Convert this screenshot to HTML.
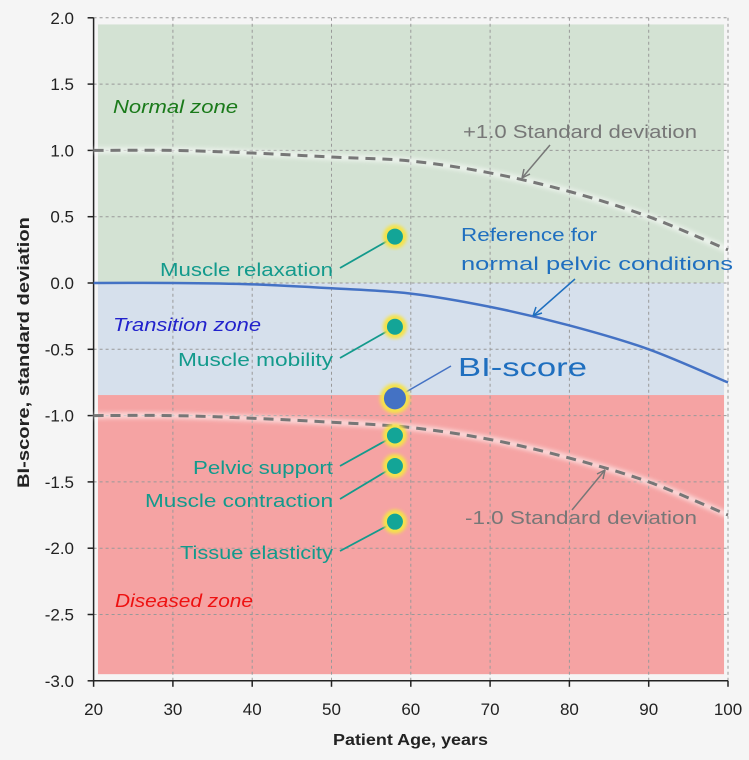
<!DOCTYPE html>
<html><head><meta charset="utf-8"><style>
body{margin:0;background:#f5f5f5;}
svg{display:block;font-family:"Liberation Sans",sans-serif;}
</style></head><body>
<svg id="c" width="749" height="760"></svg>
<script>
const xTicks=[20,30,40,50,60,70,80,90,100];
const yTicks=[2.0,1.5,1.0,0.5,0.0,-0.5,-1.0,-1.5,-2.0,-2.5,-3.0];
const ages=[20,30,40,50,60,70,80,90,100];
const refCurve=[0,0,-0.01,-0.04,-0.08,-0.18,-0.32,-0.5,-0.75];
const plusSD=[1,1,0.98,0.95,0.92,0.83,0.69,0.5,0.25];
const minusSD=[-1,-1,-1.02,-1.05,-1.09,-1.18,-1.32,-1.5,-1.75];
const pointAge=58;
const pointNames=["Muscle relaxation","Muscle mobility","Pelvic support","Muscle contraction","Tissue elasticity"];
const pointValues=[0.35,-0.33,-1.15,-1.38,-1.8];
const biScore=-0.87;
const zoneBounds=[1.95,0,-0.845,-2.95];

const NS="http://www.w3.org/2000/svg";
const svg=document.getElementById('c');
const X=v=>93.6+(v-20)*7.93;
const Y=v=>283+(-v)*132.6;
function el(t,a,p){const e=document.createElementNS(NS,t);for(const k in a)e.setAttribute(k,a[k]);(p||svg).appendChild(e);return e;}
function txt(s,a){const e=el('text',a);e.textContent=s;return e;}
function tl(s,x,y,len,size,fill,extra){const a=Object.assign({x,y,'font-size':size,fill,textLength:len,lengthAdjust:'spacingAndGlyphs'},extra||{});return txt(s,a);}
const defs=el('defs',{});
defs.innerHTML='<filter id="sh" x="-20%" y="-50%" width="140%" height="200%"><feGaussianBlur stdDeviation="2"/></filter><filter id="glow"><feGaussianBlur stdDeviation="1.5"/></filter>';

const zc=['#d3e2d3','#d6e0ec','#f5a3a3'];
for(let i=0;i<3;i++){
 const r=el('rect',{x:X(20.55),y:Y(zoneBounds[i]),width:X(99.5)-X(20.55),height:Y(zoneBounds[i+1])-Y(zoneBounds[i]),fill:zc[i]});
 
 
}
xTicks.forEach(t=>{if(t>20)el('line',{x1:X(t),x2:X(t),y1:Y(2),y2:Y(-3),stroke:'#999','stroke-dasharray':'3,3','stroke-width':1});});
yTicks.forEach(t=>{if(t>-3)el('line',{x1:X(20),x2:X(100),y1:Y(t),y2:Y(t),stroke:'#999','stroke-dasharray':'3,3','stroke-width':1});});
const ya=el('line',{x1:X(20),x2:X(20),y1:Y(2),y2:Y(-3),stroke:'#222','stroke-width':1.5});

const xa=el('line',{x1:X(20),x2:X(100),y1:Y(-3),y2:Y(-3),stroke:'#222','stroke-width':1.5});

xTicks.forEach(t=>{el('line',{x1:X(t),x2:X(t),y1:Y(-3),y2:Y(-3)+6,stroke:'#222','stroke-width':1.5});
 const l=txt(String(t),{x:X(t),y:715,'text-anchor':'middle','font-size':17,fill:'#222'});
 });
yTicks.forEach(t=>{el('line',{x1:X(20)-6,x2:X(20),y1:Y(t),y2:Y(t),stroke:'#222','stroke-width':1.5});
 const l=txt(t.toFixed(1),{x:74,y:Y(t)+6,'text-anchor':'end','font-size':17,fill:'#222'});
 });
const xt=tl('Patient Age, years',333,745,155,16,'#222',{'font-weight':'bold'});

const yt=tl('BI-score, standard deviation',0,0,271,17,'#222',{'font-weight':'bold',transform:'translate(29,488) rotate(-90)'});


function smooth(vals){const p=ages.map((a,i)=>[X(a),Y(vals[i])]);let d='M'+p[0];for(let i=0;i<p.length-1;i++){const p0=p[i-1]||p[i],p1=p[i],p2=p[i+1],p3=p[i+2]||p2;d+=`C${p1[0]+(p2[0]-p0[0])/6},${p1[1]+(p2[1]-p0[1])/6} ${p2[0]-(p3[0]-p1[0])/6},${p2[1]-(p3[1]-p1[1])/6} ${p2[0]},${p2[1]}`;}return d;}
[plusSD,minusSD].forEach((v,i)=>{
 el('path',{d:smooth(v),fill:'none',stroke:'#fff','stroke-width':6,opacity:0.6,filter:'url(#sh)'});
 const p=el('path',{d:smooth(v),fill:'none',stroke:'#777','stroke-width':3,'stroke-dasharray':'10,7'});
 
});
const rc=el('path',{d:smooth(refCurve),fill:'none',stroke:'#4472c4','stroke-width':2.5});


tl('Normal zone',113,113,125,18,'#1a7a1a',{'font-style':'italic'});
tl('Transition zone',113,331,148,18,'#2222cc',{'font-style':'italic'});
tl('Diseased zone',115,607,138,18,'#ee1111',{'font-style':'italic'});
tl('+1.0 Standard deviation',463,138,234,18,'#777');
el('line',{x1:550,y1:145,x2:522,y2:178,stroke:'#777','stroke-width':1.5});
el('path',{d:'M522,178 l2,-9 M522,178 l8,-4',stroke:'#777','stroke-width':1.5,fill:'none'});
tl('-1.0 Standard deviation',465,524,232,18,'#777');
el('line',{x1:572,y1:510,x2:605,y2:470,stroke:'#777','stroke-width':1.5});
el('path',{d:'M605,470 l-8,4 M605,470 l-2,9',stroke:'#777','stroke-width':1.5,fill:'none'});
tl('Reference for',461,241,136,18,'#1f6fbf');
tl('normal pelvic conditions',461,270,272,18,'#1f6fbf');
el('line',{x1:575,y1:279,x2:533,y2:316,stroke:'#1f6fbf','stroke-width':1.5});
el('path',{d:'M533,316 l3,-9 M533,316 l9,-3',stroke:'#1f6fbf','stroke-width':1.5,fill:'none'});

const labelPos=[[160,276],[178,366],[193,474],[145,507],[180,559]];
pointValues.forEach((v,i)=>{
 const cx=X(pointAge),cy=Y(v);
 const lx=labelPos[i][0],ly=labelPos[i][1];
 el('line',{x1:340,y1:ly-8,x2:cx,y2:cy,stroke:'#139a8c','stroke-width':1.8});
 const t=tl(pointNames[i],lx,ly,333-lx,18,'#139a8c');
 
 el('circle',{cx,cy,r:12,fill:'#f5e34a',filter:'url(#glow)'});
 const c=el('circle',{cx,cy,r:8,fill:'#13a597'});
 
});
{const cx=X(pointAge),cy=Y(biScore);
 el('line',{x1:cx,y1:cy,x2:451,y2:366,stroke:'#4472c4','stroke-width':1.5});
 el('circle',{cx,cy,r:15,fill:'#f5e34a',filter:'url(#glow)'});
 const c=el('circle',{cx,cy,r:11,fill:'#4472c4'});
 
 const t=tl('BI-score',458,376,129,26,'#1f6fbf');
 }
</script>
</body></html>
